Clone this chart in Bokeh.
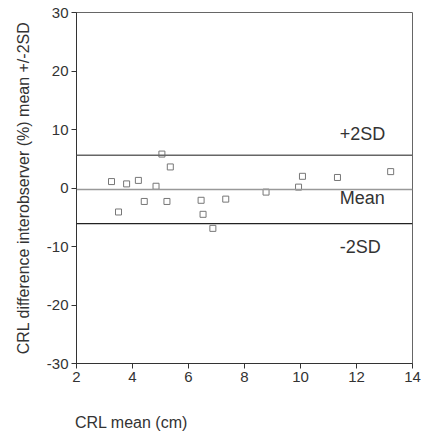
from bokeh.plotting import figure
from bokeh.layouts import column
from bokeh.models import Range1d, FixedTicker, Span, Label, PrintfTickFormatter, Div
from bokeh.embed import file_html
from bokeh.resources import INLINE

# Bland-Altman style data: mean CRL (cm) vs interobserver difference (%)
crl_mean = [3.25, 3.5, 3.79, 4.21, 4.42, 4.84, 5.05, 5.23, 5.35, 6.45,
            6.52, 6.87, 7.33, 8.77, 9.93, 10.07, 11.32, 13.22]
crl_diff = [1.1, -4.1, 0.7, 1.3, -2.3, 0.3, 5.8, -2.3, 3.6, -2.1,
            -4.5, -6.9, -1.9, -0.7, 0.15, 2.0, 1.8, 2.8]

mean_diff = -0.26
upper_2sd = 5.6
lower_2sd = -6.1

x_ticks = [2, 4, 6, 8, 10, 12, 14]
y_ticks = [-30, -20, -10, 0, 10, 20, 30]

FONT = "Liberation Sans"
TEXT = "#333333"

p = figure(width=421, height=405, output_backend="svg", toolbar_location=None,
           x_range=Range1d(2, 14), y_range=Range1d(-30, 30),
           min_border_left=76, min_border_right=9, min_border_top=12,
           min_border_bottom=42)

p.grid.visible = False
p.outline_line_color = "#666666"
p.outline_line_width = 1
p.background_fill_color = "white"
p.border_fill_color = "white"

for ax in (p.xaxis[0], p.yaxis[0]):
    ax.axis_line_color = "#333333"
    ax.major_tick_line_color = "#333333"
    ax.minor_tick_line_color = None
    ax.major_tick_in = 0
    ax.major_tick_out = 5
    ax.major_label_text_font = FONT
    ax.major_label_text_font_size = "15px"
    ax.major_label_text_color = TEXT
    ax.formatter = PrintfTickFormatter(format="%d")

p.xaxis.ticker = FixedTicker(ticks=x_ticks)
p.yaxis.ticker = FixedTicker(ticks=y_ticks)
p.xaxis.major_label_standoff = 3
p.yaxis.major_label_standoff = 3

p.yaxis.axis_label = "CRL difference interobserver (%) mean +/-2SD"
p.yaxis.axis_label_text_font = FONT
p.yaxis.axis_label_text_font_size = "16px"
p.yaxis.axis_label_text_font_style = "normal"
p.yaxis.axis_label_text_color = TEXT
p.yaxis.axis_label_standoff = 12

# Mean and limits of agreement
p.add_layout(Span(location=upper_2sd, dimension="width", line_color="#666666", line_width=1.5))
p.add_layout(Span(location=mean_diff, dimension="width", line_color="#999999", line_width=1.5))
p.add_layout(Span(location=lower_2sd, dimension="width", line_color="#222222", line_width=1.2))

p.scatter(crl_mean, crl_diff, marker="square", size=6, fill_color=None,
          line_color="#777777", line_width=1)

for txt, yv in (("+2SD", upper_2sd + 3.7), ("Mean", mean_diff - 1.4), ("-2SD", lower_2sd - 3.9)):
    p.add_layout(Label(x=11.4, y=yv, text=txt, text_font=FONT, text_font_size="18px",
                       text_color=TEXT, text_baseline="middle", text_align="left"))

# x-axis title, left-aligned with the plot frame below the tick labels
x_title = Div(text="CRL mean (cm)", width=200, height=19, margin=(8, 0, 0, 75),
              styles={"font-family": "'Liberation Sans', Arial, sans-serif",
                      "font-size": "16px", "color": TEXT, "line-height": "19px"})

layout = column(p, x_title, spacing=0)
open("out.html", "w").write(file_html(layout, INLINE))
